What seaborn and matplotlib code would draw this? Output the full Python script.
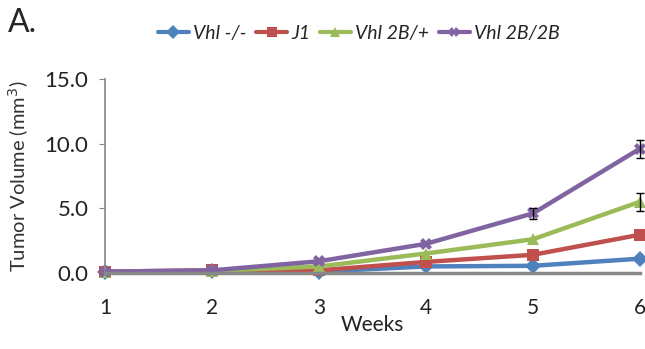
import matplotlib
matplotlib.use("Agg")
import matplotlib.pyplot as plt
import numpy as np
import pandas as pd
import seaborn as sns

weeks = [1, 2, 3, 4, 5, 6]
vhl_null = [0.1, 0.15, 0.1, 0.5, 0.55, 1.1]
j1 = [0.1, 0.2, 0.2, 0.85, 1.4, 2.95]
vhl_2b_het = [0.1, 0.15, 0.5, 1.5, 2.6, 5.5]
vhl_2b_hom = [0.1, 0.2, 0.9, 2.25, 4.6, 9.6]
vhl_2b_het_err = [0, 0, 0, 0, 0, 0.7]
vhl_2b_hom_err = [0, 0, 0, 0, 0.4, 0.7]

series_names = ["Vhl -/-", "J1", "Vhl 2B/+", "Vhl 2B/2B"]
colors = ["#4F81BD", "#C0504D", "#9BBB59", "#8064A2"]
markers = ["D", "s", "^", "X"]

df = pd.DataFrame({
    "week": weeks * 4,
    "volume": vhl_null + j1 + vhl_2b_het + vhl_2b_hom,
    "group": sum([[n] * len(weeks) for n in series_names], []),
})

sns.set_style("white")
plt.rcParams["font.family"] = ["Lato", "DejaVu Sans"]

fig = plt.figure(figsize=(6.45, 3.49), dpi=100)
ax = fig.add_axes([0.163, 0.218, 0.829, 0.556])

sns.lineplot(
    data=df, x="week", y="volume", hue="group", style="group",
    palette=colors, markers=markers, dashes=False, lw=3.2, markersize=8,
    markeredgewidth=0, ax=ax, legend=False,
)
for line in ax.lines:
    line.set_clip_on(False)

# error bars (only where an error was drawn)
for vals, errs in [(vhl_2b_het, vhl_2b_het_err), (vhl_2b_hom, vhl_2b_hom_err)]:
    idx = [i for i, e in enumerate(errs) if e > 0]
    ax.errorbar([weeks[i] for i in idx], [vals[i] for i in idx],
                yerr=[errs[i] for i in idx], fmt="none", ecolor="black",
                elinewidth=1, capsize=3, clip_on=False, zorder=5)

ax.set_xlim(1, 6)
ax.set_ylim(0, 15)
ax.set_yticks([0, 5, 10, 15])
ax.set_yticklabels([f"{v:.1f}" for v in [0, 5, 10, 15]], fontsize=16,
                   color="#222222")
ax.set_xticks(weeks)
ax.set_xticklabels([str(w) for w in weeks], fontsize=15, color="#222222")
ax.tick_params(axis="y", length=4, color="#888888", pad=8, left=True)
ax.tick_params(axis="x", length=0, pad=18)
for s in ["top", "right"]:
    ax.spines[s].set_visible(False)
ax.spines["left"].set_color("#888888")
ax.spines["left"].set_linewidth(1.2)
ax.spines["bottom"].set_color("#888888")
ax.spines["bottom"].set_linewidth(2.5)
ax.set_xlabel("Weeks", fontsize=15, labelpad=-2, color="#222222")
ax.set_ylabel("Tumor Volume (mm$^3$)", fontsize=14.5, labelpad=10,
              color="#333333")

handles = [
    plt.Line2D([], [], color=c, marker=m, lw=3, markersize=7, markeredgewidth=0)
    for c, m in zip(colors, markers)
]
leg = fig.legend(
    handles, series_names, loc="center", bbox_to_anchor=(0.556, 0.905),
    ncol=4, frameon=False, handlelength=1.6, handletextpad=0.2,
    columnspacing=0.5, prop={"family": "Lato", "style": "italic", "size": 14},
)

fig.text(0.012, 0.935, "A.", fontsize=23, ha="left", va="center")

fig.savefig("out.png", dpi=100)
